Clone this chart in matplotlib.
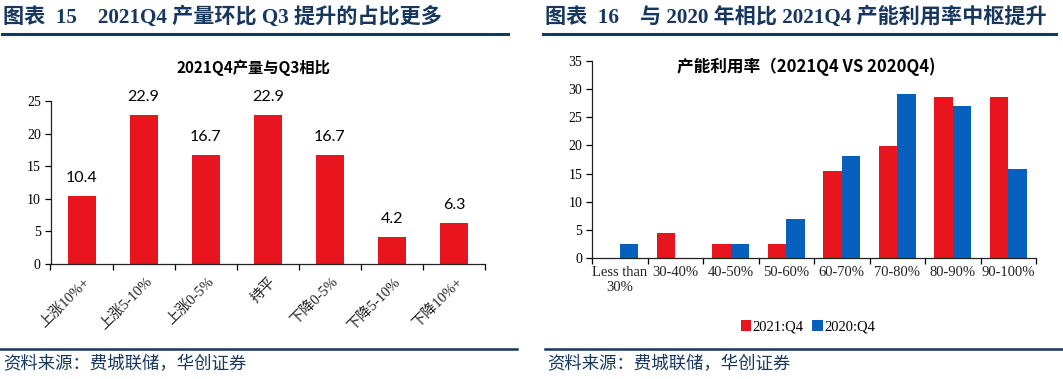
import matplotlib
matplotlib.use("Agg")
import matplotlib.pyplot as plt
import numpy as np
from matplotlib.lines import Line2D

# ---------------- data ----------------
left_categories = ["上涨10%+", "上涨5-10%", "上涨0-5%", "持平", "下降0-5%", "下降5-10%", "下降10%+"]
left_values = [10.4, 22.9, 16.7, 22.9, 16.7, 4.2, 6.3]
left_labels = ["10.4", "22.9", "16.7", "22.9", "16.7", "4.2", "6.3"]

right_categories = ["Less than\n30%", "30-40%", "40-50%", "50-60%", "60-70%", "70-80%", "80-90%", "90-100%"]
q4_2021 = [0.0, 4.5, 2.4, 2.4, 15.5, 19.9, 28.6, 28.6]
q4_2020 = [2.5, 0.0, 2.5, 7.0, 18.1, 29.2, 27.0, 15.9]
series_names = ["2021:Q4", "2020:Q4"]

header_left = "图表  15    2021Q4 产量环比 Q3 提升的占比更多"
header_right = "图表  16    与 2020 年相比 2021Q4 产能利用率中枢提升"
title_left = "2021Q4产量与Q3相比"
title_right = "产能利用率（2021Q4 VS 2020Q4)"
source_text = "资料来源：费城联储，华创证券"

RED = "#E8141E"
BLUE = "#0860BE"
NAVY = "#17375E"

SERIF = ["Liberation Serif", "Noto Sans CJK SC"]
SANS = ["Lato", "Noto Sans CJK SC"]
CJK = ["Noto Sans CJK SC", "DejaVu Sans"]

fig = plt.figure(figsize=(10.63, 3.79), dpi=100)
W, H = 1063, 379

def fx(x):
    return x / W

def fy(y):
    return 1 - y / H

# headers
fig.text(fx(3), fy(17), header_left, family=SERIF, fontweight="bold", fontsize=15.2,
         color=NAVY, va="center", ha="left")
fig.text(fx(545), fy(17), header_right, family=SERIF, fontweight="bold", fontsize=15.2,
         color=NAVY, va="center", ha="left")
for x0, x1 in [(2, 508), (543, 1056)]:
    fig.add_artist(Line2D([fx(x0), fx(x1)], [fy(33.5), fy(33.5)], color=NAVY, lw=2.2))
for x0, x1 in [(0, 517), (545, 1063)]:
    fig.add_artist(Line2D([fx(x0), fx(x1)], [fy(348.5), fy(348.5)], color=NAVY, lw=1.8))
fig.text(fx(3), fy(364), source_text, family=CJK, fontsize=12.5, color=NAVY,
         va="center", ha="left", style="italic")
fig.text(fx(547), fy(364), source_text, family=CJK, fontsize=12.5, color=NAVY,
         va="center", ha="left", style="italic")

def style_axes(ax):
    for s in ["top", "right"]:
        ax.spines[s].set_visible(False)
    ax.spines["left"].set_color("#222222")
    ax.spines["bottom"].set_color("#222222")
    ax.spines["left"].set_linewidth(0.9)
    ax.spines["bottom"].set_linewidth(0.9)
    ax.tick_params(axis="y", direction="out", length=4, width=0.9, labelsize=10, pad=3)
    for t in ax.get_yticklabels():
        t.set_family(SERIF)

# ---------------- left chart ----------------
axL = fig.add_axes([fx(50.5), fy(264), fx(485 - 50.5), (264 - 101) / H])
xL = np.arange(len(left_categories))
axL.bar(xL, left_values, width=0.45, color=RED, zorder=2)
axL.set_xlim(-0.5, len(left_categories) - 0.5)
axL.set_ylim(0, 25)
axL.set_yticks(np.arange(0, 26, 5))
axL.set_xticks(np.arange(-0.5, len(left_categories), 1.0))
axL.set_xticklabels([])
axL.tick_params(axis="x", direction="out", length=4, width=0.9)
style_axes(axL)
for t in axL.get_yticklabels():
    t.set_family(SERIF)
for i, (v, lab) in enumerate(zip(left_values, left_labels)):
    axL.text(xL[i], v + 1.7, lab, ha="center", va="bottom", fontsize=11.5,
             family=SANS, clip_on=False)
for i, cat in enumerate(left_categories):
    axL.annotate(cat, xy=(xL[i], 0), xycoords=("data", "axes fraction"),
                 xytext=(1, -8), textcoords="offset points",
                 ha="right", va="top", rotation=45, rotation_mode="anchor",
                 fontsize=10.5, family=SERIF, color="#222222")
axL.text(0.468, 1.205, title_left, transform=axL.transAxes, ha="center",
         va="center", family=CJK, fontweight="bold", fontsize=11)

# ---------------- right chart ----------------
axR = fig.add_axes([fx(592), fy(258), fx(1036 - 592), (258 - 61) / H])
xR = np.arange(len(right_categories))
bw = 0.33
axR.bar(xR - bw / 2, q4_2021, width=bw, color=RED, label=series_names[0], zorder=2)
axR.bar(xR + bw / 2, q4_2020, width=bw, color=BLUE, label=series_names[1], zorder=2)
axR.set_xlim(-0.5, len(right_categories) - 0.5)
axR.set_ylim(0, 35)
axR.set_yticks(np.arange(0, 36, 5))
axR.set_xticks(np.arange(-0.5, len(right_categories), 1.0))
axR.set_xticklabels([])
axR.tick_params(axis="x", direction="out", length=4, width=0.9)
style_axes(axR)
for t in axR.get_yticklabels():
    t.set_family(SERIF)
for i, cat in enumerate(right_categories):
    axR.text(xR[i], -0.04, cat, transform=axR.get_xaxis_transform(),
             ha="center", va="top", fontsize=10.5, family=SERIF,
             color="#222222", linespacing=1.25)
axR.text((806 - 592) / (1036 - 592), 1 - (67 - 61) / (258 - 61), title_right,
         transform=axR.transAxes, ha="center", va="center", family=CJK,
         fontweight="bold", fontsize=12)
leg = axR.legend(loc="center", bbox_to_anchor=((808 - 592) / (1036 - 592), -(327 - 258) / (258 - 61)),
                 ncol=2, frameon=False, handlelength=0.7, handleheight=0.7,
                 handletextpad=0.1, columnspacing=0.6,
                 prop={"family": SERIF, "size": 10.5})

fig.savefig("out.png", dpi=100)
